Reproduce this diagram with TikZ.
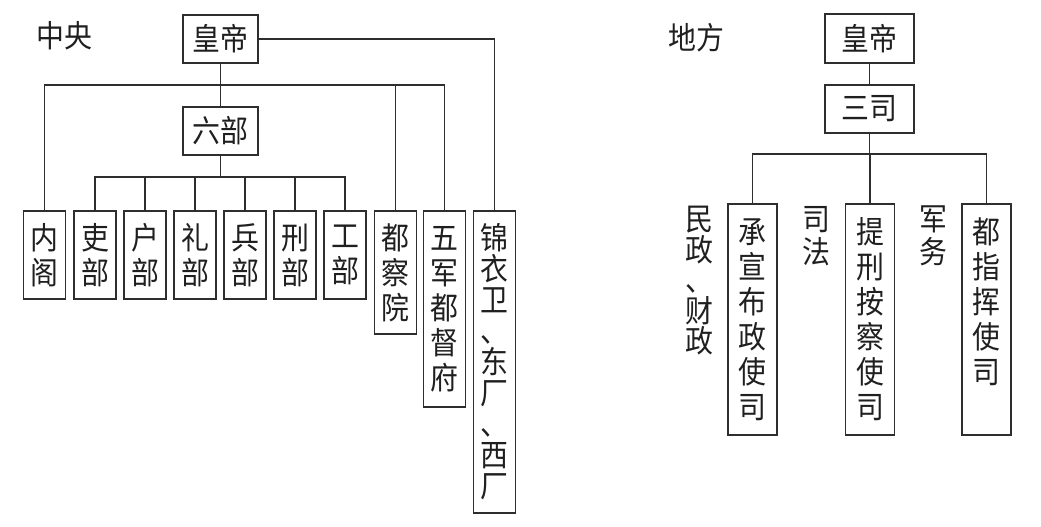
\documentclass[tikz,border=0pt]{standalone}
\usepackage{fontspec}
\newfontfamily\cjk[FakeStretch=0.9]{Noto Sans CJK SC}
\tikzset{
  ink/.style={draw=black!82, line width=1.3pt},
  cbox/.style={ink, rectangle, inner sep=0pt, align=center, text=black!88,
    font=\cjk\fontsize{31}{35}\selectfont},
  hbox/.style={cbox, minimum height=48pt},
  vbox/.style={cbox, minimum width=42pt},
  rbox/.style={cbox, minimum width=49pt, minimum height=231pt},
  lbl/.style={inner sep=0pt, align=center, text=black!88,
    font=\cjk\fontsize{31}{33}\selectfont},
  conn/.style={ink}
}
\begin{document}
\begin{tikzpicture}[x=1pt,y=-1pt]
\useasboundingbox (0,0) rectangle (1041,527);
% ---------- central ----------
\node[lbl] (zy) at (64,36) {中央};
\node[hbox, minimum width=75pt] (hd) at (220.5,39) {皇帝};
\node[hbox, minimum width=75pt] (lb) at (220.5,131) {六部};
\node[vbox, minimum height=88pt] (nege) at (44.5,255) {内\\阁};
\node[vbox, minimum height=88pt] (li) at (95,255) {吏\\部};
\node[vbox, minimum height=88pt] (hu) at (145,255) {户\\部};
\node[vbox, minimum height=88pt] (lii) at (195,255) {礼\\部};
\node[vbox, minimum height=88pt] (bing) at (245,255) {兵\\部};
\node[vbox, minimum height=88pt] (xing) at (295,255) {刑\\部};
\node[vbox, minimum height=88pt] (gong) at (345,255) {工\\部};
\node[vbox, minimum height=123pt] (dcy) at (395.5,272.5) {都\\察\\院};
\node[vbox, minimum height=196pt] (wj) at (444.5,309) {五\\军\\都\\督\\府};
\node[vbox, minimum height=302pt, font=\cjk\fontsize{31}{31}\selectfont] (jy) at (494.5,362)
  {锦\\衣\\卫\\、\\东\\厂\\、\\西\\厂};
\coordinate (busA) at (220.5,85);
\coordinate (busB) at (220.5,177);
\draw[conn] (hd.south) -- (lb.north);
\draw[conn] (busA) -| (nege.north);
\draw[conn] (busA) -| (dcy.north);
\draw[conn] (busA) -| (wj.north);
\draw[conn] (hd.east) -| (jy.north);
\draw[conn] (lb.south) -- (busB);
\foreach \n in {li,hu,lii,bing,xing,gong}
  \draw[conn] (busB) -| (\n.north);
% ---------- local ----------
\node[lbl] (df) at (696,38) {地方};
\node[hbox, minimum width=89pt, minimum height=49pt] (hd2) at (869.5,38.5) {皇帝};
\node[hbox, minimum width=89pt] (ss) at (869.5,109) {三司};
\node[rbox] (cx) at (752.5,319.5) {承\\宣\\布\\政\\使\\司};
\node[rbox] (tx) at (870,319.5) {提\\刑\\按\\察\\使\\司};
\node[rbox] (dz) at (986.5,319.5) {都\\指\\挥\\使\\司\\\phantom{司}};
\node[lbl, anchor=north, font=\cjk\fontsize{31}{30.5}\selectfont] (mz) at (699,206) {民\\政\\、\\财\\政};
\node[lbl, anchor=north] (sf) at (816.5,206) {司\\法};
\node[lbl, anchor=north] (jw) at (933,206) {军\\务};
\coordinate (busC) at (869.5,154);
\draw[conn] (hd2.south) -- (ss.north);
\draw[conn] (ss.south) -- (busC);
\draw[conn] (busC) -| (cx.north);
\draw[conn] (busC) -| (tx.north);
\draw[conn] (busC) -| (dz.north);
\end{tikzpicture}
\end{document}
